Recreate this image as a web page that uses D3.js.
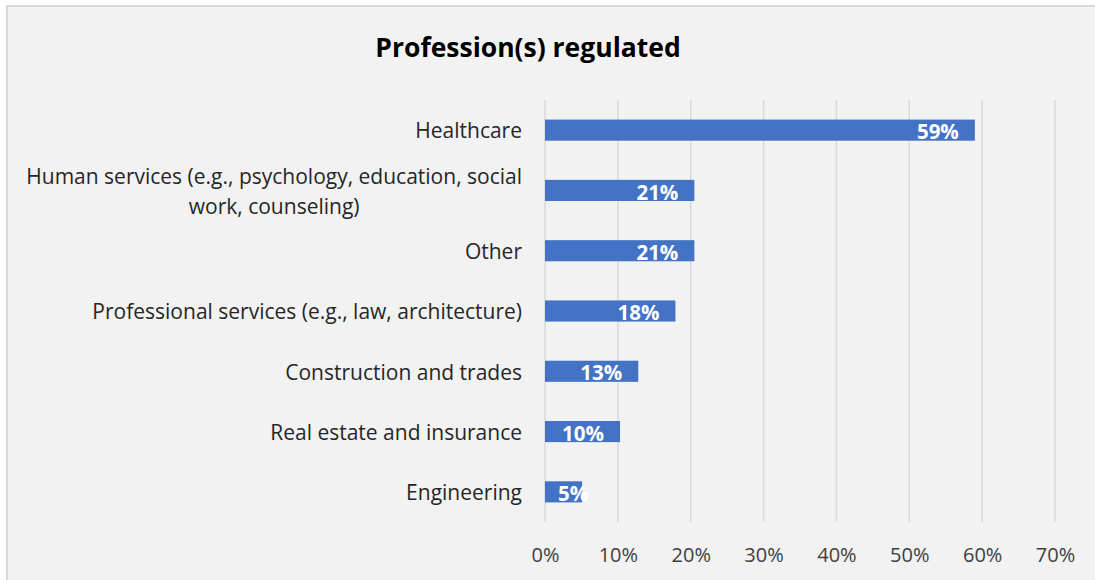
<!DOCTYPE html>
<html><head><meta charset="utf-8">
<script src="https://cdn.jsdelivr.net/npm/d3@7"></script>
<style>html,body{margin:0;padding:0;background:#fff;overflow:hidden}</style>
</head><body>
<svg id="c" width="1095" height="580"></svg>
<script>
const categories = [
  "Healthcare",
  "Human services (e.g., psychology, education, social|work, counseling)",
  "Other",
  "Professional services (e.g., law, architecture)",
  "Construction and trades",
  "Real estate and insurance",
  "Engineering"
];
const values = [59.0, 20.5, 20.5, 17.9, 12.8, 10.3, 5.1];
const tickValues = [0, 10, 20, 30, 40, 50, 60, 70];
const title = "Profession(s) regulated";

const FONT = "'Open Sans', 'Liberation Sans', Arial, sans-serif";
const svg = d3.select("#c");
svg.append("rect").attr("x", 7).attr("y", 6).attr("width", 1200).attr("height", 700)
  .attr("fill", "#f2f2f2").attr("stroke", "#d9d9d9").attr("stroke-width", 2);

svg.append("text").attr("x", 528).attr("y", 57).attr("text-anchor", "middle")
  .attr("font-family", FONT).attr("font-weight", "bold").attr("font-size", 26.5)
  .attr("fill", "#000").text(title);

const x = d3.scaleLinear().domain([0, 70]).range([545, 1055]);
const y = d3.scaleBand().domain(categories).range([100, 522]).paddingInner(0.65).paddingOuter(0.325);

const g = svg.append("g");
g.selectAll("line.grid").data(tickValues).join("line")
  .attr("x1", d => x(d)).attr("x2", d => x(d)).attr("y1", 100).attr("y2", 522)
  .attr("stroke", "#d9d9d9").attr("stroke-width", 1.5);

const axis = d3.axisBottom(x).tickValues(tickValues).tickFormat(d => d + "%").tickSize(0).tickPadding(0);
const ax = svg.append("g").attr("transform", "translate(0,562)").call(axis);
ax.select(".domain").remove();
ax.selectAll("text").attr("font-family", FONT).attr("font-size", 20).attr("fill", "#404040").attr("dy", null);

g.selectAll("rect.bar").data(values).join("rect")
  .attr("x", x(0)).attr("y", (d, i) => y(categories[i]))
  .attr("width", d => x(d) - x(0)).attr("height", y.bandwidth())
  .attr("fill", "#4472c4");

const lbl = g.selectAll("text.val").data(values).join("text")
  .attr("font-family", FONT).attr("font-weight", "bold").attr("font-size", 20.5)
  .attr("fill", "#fff").attr("dy", "0.35em")
  .attr("y", (d, i) => y(categories[i]) + y.bandwidth() / 2 + 2)
  .text(d => Math.round(d) + "%");
lbl.each(function(d) {
  const w = this.getComputedTextLength();
  const sx = Math.max(x(0) + 13, x(d) - 16 - w);
  d3.select(this).attr("x", sx);
});

const cl = svg.selectAll("text.cat").data(categories).join("text")
  .attr("font-family", FONT).attr("font-size", 21).attr("fill", "#262626")
  .attr("text-anchor", "middle");
cl.each(function(d) {
  const lines = d.split("|");
  const t = d3.select(this);
  const cy = y(d) + y.bandwidth() / 2 + 1;
  const lh = 30;
  const y0 = cy - (lines.length - 1) * lh / 2;
  lines.forEach((ln, k) => {
    t.append("tspan").attr("y", y0 + k * lh).attr("dy", "0.35em").text(ln);
  });
  let maxW = 0;
  t.selectAll("tspan").each(function() { maxW = Math.max(maxW, this.getComputedTextLength()); });
  t.selectAll("tspan").attr("x", 522 - maxW / 2);
});
</script>
</body></html>
